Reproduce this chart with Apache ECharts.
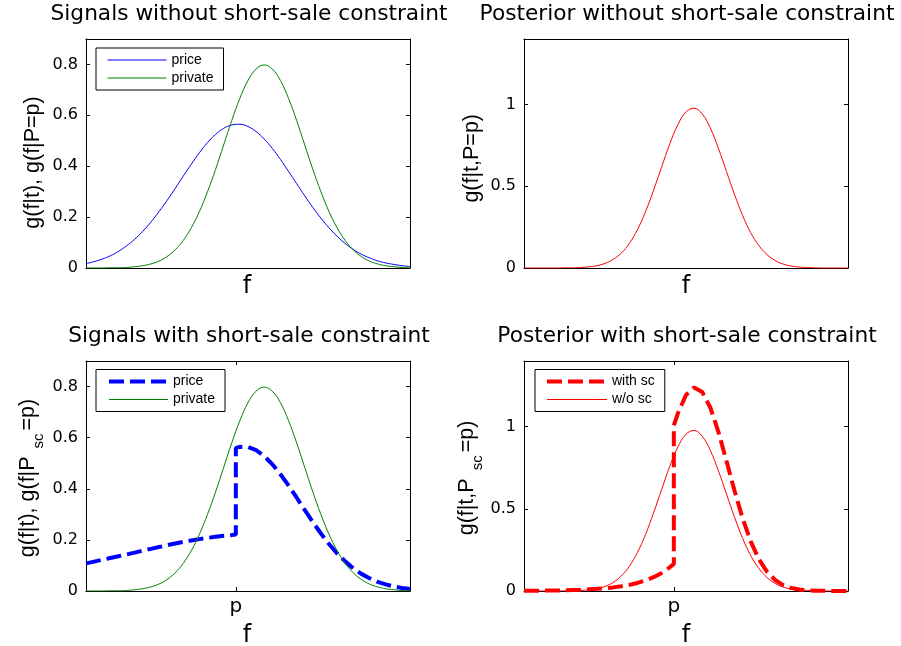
<!DOCTYPE html>
<html>
<head>
<meta charset="utf-8">
<script src="https://cdn.jsdelivr.net/npm/echarts@6/dist/echarts.min.js"></script>
<style>
  html, body { margin: 0; padding: 0; background: #ffffff; }
  #chart { width: 901px; height: 646px; }
</style>
</head>
<body>
<div id="chart"></div>
<script>
// ---- data -------------------------------------------------------------
// common grid of fundamental values f
const fGrid = [-2.0,-1.9,-1.8,-1.7,-1.6,-1.5,-1.4,-1.3,-1.2,-1.1,-1.0,-0.9,-0.8,-0.7,-0.6,-0.5,-0.4,-0.3,-0.2,-0.1,
  0.0,0.1,0.2,0.3,0.4,0.5,0.6,0.7,0.8,0.9,1.0,1.1,1.2,1.3,1.4,1.5,1.6,1.7,1.8,1.9,2.0];

// price signal density g(f|P=p)
const priceDensity = [0.017,0.025,0.035,0.048,0.065,0.087,0.113,0.144,0.180,0.221,0.265,0.312,0.361,0.408,0.453,0.493,0.525,0.549,0.562,0.565,
  0.556,0.536,0.507,0.470,0.427,0.380,0.332,0.284,0.238,0.196,0.158,0.125,0.096,0.073,0.054,0.040,0.028,0.020,0.014,0.009,0.006];

// private signal density g(f|t)
const privateDensity = [0.000,0.000,0.000,0.001,0.001,0.002,0.005,0.009,0.016,0.027,0.045,0.071,0.108,0.158,0.222,0.300,0.388,0.484,0.580,0.667,
  0.737,0.782,0.798,0.782,0.737,0.667,0.580,0.484,0.388,0.300,0.222,0.158,0.108,0.071,0.045,0.027,0.016,0.009,0.005,0.002,0.001];

// posterior without the constraint g(f|t,P=p)
const posteriorDensity = [0.000,0.000,0.000,0.000,0.000,0.001,0.001,0.003,0.007,0.014,0.028,0.052,0.091,0.150,0.234,0.344,0.476,0.619,0.759,0.877,
  0.954,0.977,0.942,0.856,0.732,0.590,0.448,0.320,0.215,0.137,0.082,0.046,0.024,0.012,0.006,0.003,0.001,0.000,0.000,0.000,0.000];

// constrained densities jump at f = p, so p appears twice in their grid
const pValue = -0.15;
const scGrid = [-2.0,-1.9,-1.8,-1.7,-1.6,-1.5,-1.4,-1.3,-1.2,-1.1,-1.0,-0.9,-0.8,-0.7,-0.6,-0.5,-0.4,-0.3,-0.2,-0.15,
  -0.15,-0.1,0.0,0.1,0.2,0.3,0.4,0.5,0.6,0.7,0.8,0.9,1.0,1.1,1.2,1.3,1.4,1.5,1.6,1.7,1.8,1.9,2.0];

// price signal density with short-sale constraint g(f|P_sc=p)
const priceScDensity = [0.108,0.115,0.122,0.129,0.136,0.143,0.150,0.158,0.165,0.172,0.179,0.186,0.192,0.198,0.203,0.208,0.212,0.216,0.219,0.221,
  0.560,0.564,0.563,0.551,0.528,0.496,0.457,0.413,0.366,0.317,0.270,0.225,0.184,0.147,0.116,0.089,0.067,0.050,0.036,0.026,0.018,0.012,0.008];

// posterior with short-sale constraint g(f|t,P_sc=p)
const posteriorScDensity = [0.001,0.002,0.002,0.003,0.003,0.004,0.006,0.007,0.010,0.013,0.017,0.022,0.029,0.037,0.049,0.064,0.084,0.110,0.144,0.165,
  1.008,1.082,1.193,1.239,1.212,1.117,0.969,0.791,0.609,0.441,0.301,0.193,0.117,0.067,0.036,0.018,0.009,0.004,0.002,0.001,0.000,0.000,0.000];

// text
const panelTitles = [
  'Signals without short-sale constraint',
  'Posterior without short-sale constraint',
  'Signals with short-sale constraint',
  'Posterior with short-sale constraint'
];
const legendLabels = {
  price: 'price', private: 'private',
  priceSc: 'price', privateSc: 'private',
  posteriorSc: 'with sc', posteriorNoSc: 'w/o sc'
};
const pTickLabel = 'p';
const xLabel = 'f';

// ---- layout -----------------------------------------------------------
const HFONT = 'DejaVu Sans';
const VFONT = 'Liberation Sans';
const DASH = [15, 6];
const panels = [
  { left: 86,  top: 39,  width: 324, height: 229, yMax: 0.9, yStep: 0.2, pTick: false },
  { left: 524, top: 39,  width: 324, height: 229, yMax: 1.4, yStep: 0.5, pTick: false },
  { left: 86,  top: 361, width: 324, height: 230, yMax: 0.9, yStep: 0.2, pTick: true },
  { left: 524, top: 361, width: 324, height: 230, yMax: 1.4, yStep: 0.5, pTick: true }
];

const black = { color: '#000000', width: 1 };
const grids = [], xAxes = [], yAxes = [];
panels.forEach((p, i) => {
  grids.push({ left: p.left, top: p.top, width: p.width, height: p.height, containLabel: false });
  ['bottom', 'top'].forEach(pos => {
    xAxes.push({
      type: 'value', gridIndex: i, position: pos, min: -2, max: 2,
      axisLine: { show: true, onZero: false, lineStyle: black },
      axisTick: { show: p.pTick, inside: true, length: 4, customValues: [pValue], lineStyle: black },
      axisLabel: {
        show: p.pTick && pos === 'bottom', customValues: [pValue], formatter: () => pTickLabel,
        margin: 6, fontFamily: HFONT, fontSize: 20, color: '#000'
      },
      splitLine: { show: false }
    });
  });
  ['left', 'right'].forEach(pos => {
    yAxes.push({
      type: 'value', gridIndex: i, position: pos, min: 0, max: p.yMax, interval: p.yStep,
      axisLine: { show: true, onZero: false, lineStyle: black },
      axisTick: { show: true, inside: true, length: 4, lineStyle: black },
      axisLabel: {
        show: pos === 'left', showMaxLabel: false, margin: 8,
        fontFamily: HFONT, fontSize: 16, color: '#000'
      },
      splitLine: { show: false }
    });
  });
});

function pairs(xs, ys) { return xs.map((x, k) => [x, ys[k]]); }

function lineLook(color, thick) {
  return thick
    ? { color: color, width: 4, type: DASH, cap: 'butt' }
    : { color: color, width: 1, type: 'solid' };
}

function curve(name, panel, xs, ys, color, thick) {
  return {
    name: name, type: 'line', xAxisIndex: panel * 2, yAxisIndex: panel * 2,
    data: pairs(xs, ys), symbol: 'none', smooth: thick ? false : 0.4,
    lineStyle: lineLook(color, thick),
    itemStyle: { color: color },
    animation: false
  };
}

const series = [
  curve('price', 0, fGrid, priceDensity, '#0000ff', false),
  curve('private', 0, fGrid, privateDensity, '#008000', false),
  curve('posterior', 1, fGrid, posteriorDensity, '#ff0000', false),
  curve('priceSc', 2, scGrid, priceScDensity, '#0000ff', true),
  curve('privateSc', 2, fGrid, privateDensity, '#008000', false),
  curve('posteriorSc', 3, scGrid, posteriorScDensity, '#ff0000', true),
  curve('posteriorNoSc', 3, fGrid, posteriorDensity, '#ff0000', false)
];

function legendBox(items, left, top, padL, itemWidth) {
  return {
    data: items.map(it => ({ name: it[0], lineStyle: lineLook(it[1], it[2]) })),
    orient: 'vertical', left: left, top: top,
    padding: [5, 10, 5, padL], itemWidth: itemWidth, itemHeight: 14, itemGap: 4,
    borderColor: '#000', borderWidth: 1, backgroundColor: '#ffffff',
    selectedMode: false, itemStyle: { opacity: 0 },
    formatter: n => legendLabels[n],
    textStyle: { fontFamily: VFONT, fontSize: 14, lineHeight: 14, color: '#000' }
  };
}

const titleStyle = { fontFamily: HFONT, fontSize: 21.7, fontWeight: 'normal', color: '#000' };
const titles = panels.map((p, i) => ({
  text: panelTitles[i], left: p.left + p.width / 2 + 1, top: p.top - 36, textAlign: 'center',
  padding: 0, textStyle: titleStyle
}));

const vRich = {
  m: { fontFamily: VFONT, fontSize: 21.5, lineHeight: 36, fill: '#000' },
  s: { fontFamily: VFONT, fontSize: 15, lineHeight: 12, verticalAlign: 'bottom', padding: [0, 3, 0, 8], fill: '#000' }
};
function yLabel(x, y, text) {
  return {
    type: 'text', x: x, y: y, rotation: Math.PI / 2,
    style: { text: text, rich: vRich, align: 'center', verticalAlign: 'middle',
             textAlign: 'center', textVerticalAlign: 'middle', fill: '#000',
             fontFamily: VFONT, fontSize: 21.5 }
  };
}
function xLabelText(x, y) {
  return {
    type: 'text', x: x, y: y,
    style: { text: xLabel, align: 'center', verticalAlign: 'middle',
             textAlign: 'center', textVerticalAlign: 'middle',
             fill: '#000', fontFamily: HFONT, fontSize: 24 }
  };
}

const chart = echarts.init(document.getElementById('chart'), null, { renderer: 'canvas' });
chart.setOption({
  backgroundColor: '#ffffff',
  animation: false,
  title: titles,
  grid: grids,
  xAxis: xAxes,
  yAxis: yAxes,
  legend: [
    legendBox([['price', '#0000ff', false], ['private', '#008000', false]], 96, 48, 11, 59),
    legendBox([['priceSc', '#0000ff', true], ['privateSc', '#008000', false]], 96, 369.5, 11, 59),
    legendBox([['posteriorSc', '#ff0000', true], ['posteriorNoSc', '#ff0000', false]], 535, 369.5, 10, 60)
  ],
  graphic: [
    yLabel(33, 162.5, '{m|g(f|t), g(f|P=p)}'),
    yLabel(472.5, 158.3, '{m|g(f|t,P=p)}'),
    yLabel(28, 478, '{m|g(f|t), g(f|P}{s|sc}{m|=p)}'),
    yLabel(467, 478, '{m|g(f|t,P}{s|sc}{m|=p)}'),
    xLabelText(247, 286.6),
    xLabelText(686, 286.6),
    xLabelText(247, 636),
    xLabelText(686, 636)
  ],
  series: series
});
</script>
</body>
</html>
